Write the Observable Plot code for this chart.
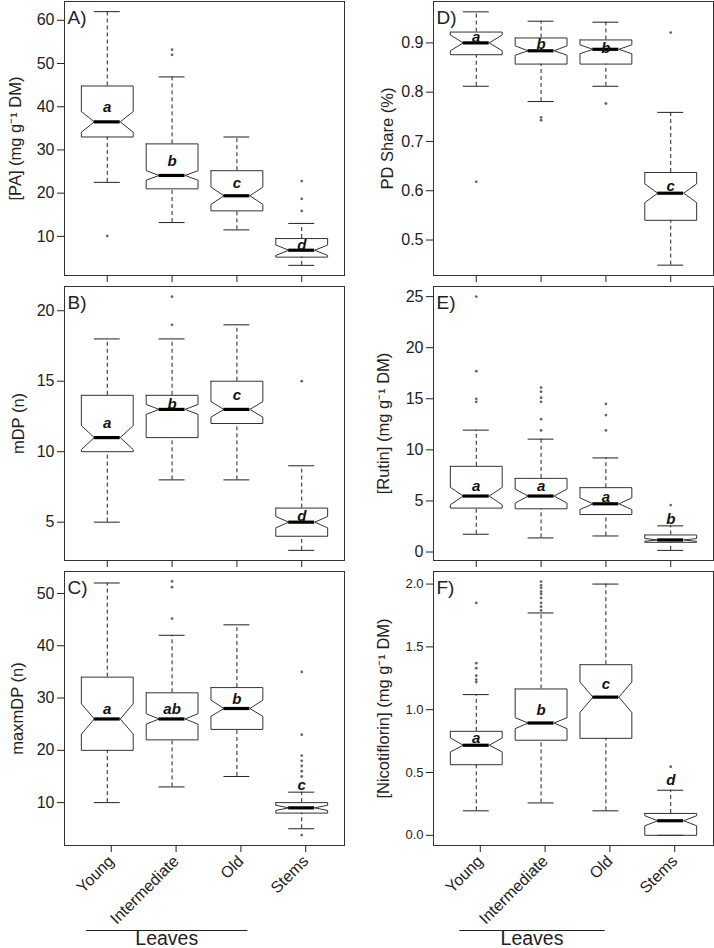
<!DOCTYPE html>
<html><head><meta charset="utf-8">
<script src="https://cdn.jsdelivr.net/npm/d3@7"></script>
<script src="https://cdn.jsdelivr.net/npm/@observablehq/plot@0.6"></script>
<style>
body{margin:0;background:#fff;}
#chart{position:relative;width:714px;height:948px;overflow:hidden;background:#fff;font-family:"Liberation Sans",Arial,sans-serif;}
#chart svg{position:absolute;overflow:visible;}
</style></head><body><div id="chart"></div>
<script>
// Categories
const groups = ["Young", "Intermediate", "Old", "Stems"];
const groupLabel = "Leaves";

// Box statistics per group: [whiskerLow, Q1, median, Q3, whiskerHigh, notchLow, notchHigh]
const paStats = [
  [22.5, 33.0, 36.5, 44.8, 62.0, 34.1, 38.9],
  [13.2, 21.0, 24.1, 31.4, 46.9, 23.0, 25.2],
  [11.5, 15.9, 19.4, 25.2, 33.0, 17.4, 21.4],
  [3.3, 5.2, 6.8, 9.5, 13.0, 5.6, 8.0]
];
const paOutliers = [[1, 10.1], [2, 53.2], [2, 52.0], [4, 22.8], [4, 18.7], [4, 15.9]];
const paLetters = [["a", 40.0], ["b", 27.5], ["c", 22.4], ["d", 8.0]];

const mdpStats = [
  [5, 10, 11, 14, 18, 10.15, 11.85],
  [8, 11, 13, 14, 18, 12.65, 13.35],
  [8, 12, 13, 15, 19, 12.45, 13.55],
  [3, 4, 5, 6, 9, 4.6, 5.4]
];
const mdpOutliers = [[2, 21], [2, 19], [4, 15]];
const mdpLetters = [["a", 12.0], ["b", 13.4], ["c", 14.0], ["d", 5.4]];

const maxStats = [
  [10, 20, 26, 34, 52, 23.1, 28.9],
  [13, 22, 26, 31, 42, 25.0, 27.0],
  [15, 24, 28, 32, 44, 26.5, 29.6],
  [5, 8, 9, 10, 12, 8.5, 9.5]
];
const maxOutliers = [[2, 52.3], [2, 51.2], [2, 45.2], [4, 35], [4, 23], [4, 19], [4, 18], [4, 17], [4, 16], [4, 15], [4, 3.8]];
const maxLetters = [["a", 27.8], ["ab", 27.8], ["b", 29.8], ["c", 13.4]];

const pdStats = [
  [0.812, 0.876, 0.900, 0.922, 0.963, 0.884, 0.916],
  [0.781, 0.857, 0.884, 0.910, 0.944, 0.875, 0.894],
  [0.812, 0.857, 0.887, 0.906, 0.942, 0.878, 0.896],
  [0.449, 0.540, 0.595, 0.637, 0.759, 0.576, 0.614]
];
const pdOutliers = [[1, 0.618], [2, 0.749], [2, 0.743], [3, 0.777], [4, 0.921]];
const pdLetters = [["a", 0.911], ["b", 0.897], ["b", 0.890], ["c", 0.610]];

const rutinStats = [
  [1.74, 4.30, 5.48, 8.39, 11.93, 4.62, 6.33],
  [1.38, 4.23, 5.48, 7.21, 11.05, 4.79, 6.16],
  [1.57, 3.67, 4.72, 6.30, 9.21, 4.16, 5.30],
  [0.16, 0.95, 1.18, 1.67, 2.56, 1.05, 1.32]
];
const rutinOutliers = [[1, 25.0], [1, 17.7], [1, 15.0], [1, 14.7], [2, 16.1], [2, 15.7], [2, 15.1], [2, 14.7], [2, 13.0], [2, 11.9], [3, 14.5], [3, 13.4], [3, 11.9], [4, 4.6]];
const rutinLetters = [["a", 6.4], ["a", 6.4], ["a", 5.4], ["b", 3.2]];

const nicoStats = [
  [0.195, 0.562, 0.717, 0.828, 1.12, 0.664, 0.775],
  [0.258, 0.757, 0.894, 1.165, 1.77, 0.849, 0.936],
  [0.195, 0.772, 1.10, 1.358, 2.0, 0.978, 1.22],
  [0.0, 0.0, 0.116, 0.174, 0.359, 0.076, 0.156]
];
const nicoOutliers = [[1, 1.85], [1, 1.37], [1, 1.33], [1, 1.27], [1, 1.24], [1, 1.22], [2, 2.02], [2, 1.99], [2, 1.97], [2, 1.94], [2, 1.92], [2, 1.89], [2, 1.85], [2, 1.82], [2, 1.79], [4, 0.546]];
const nicoLetters = [["a", 0.775], ["b", 0.994], ["c", 1.20], ["d", 0.435]];

// Axis settings
const paTicks = [10, 20, 30, 40, 50, 60];
const mdpTicks = [5, 10, 15, 20];
const maxTicks = [10, 20, 30, 40, 50];
const pdTicks = [0.5, 0.6, 0.7, 0.8, 0.9];
const rutinTicks = [0, 5, 10, 15, 20, 25];
const nicoTicks = [0, 0.5, 1, 1.5, 2];

const FONT = "'Liberation Sans', Arial, sans-serif";
const chart = document.getElementById("chart");

function panel(cfg) {
  const {stats, outliers, letters, domain, ticks, fmt, label, tag, tickFont, labelDx, col, row} = cfg;
  const boxes = stats.map((s, i) => ({x: i + 1, lo: s[0], q1: s[1], med: s[2], q3: s[3], hi: s[4], nlo: s[5], nhi: s[6]}));
  const W = 0.4;
  const outline = boxes.flatMap(b => [[-1, b.q3], [-1, b.nhi], [-0.5, b.med], [-1, b.nlo], [-1, b.q1], [1, b.q1], [1, b.nlo], [0.5, b.med], [1, b.nhi], [1, b.q3], [-1, b.q3]]
    .map(([k, y]) => ({x: b.x + k * W, y, g: b.x})));
  const heights = [285, 286, 378];
  const tops = [0, 285, 570];
  const left = col === 0;
  const bottom = row === 2;
  const ink = "#222";
  const plot = Plot.plot({
    width: 357,
    height: heights[row],
    marginTop: 1,
    marginBottom: heights[row] - 1 - 274,
    marginLeft: left ? 64 : 76,
    marginRight: left ? 13 : 1,
    x: {domain: [0.34, 4.66]},
    y: {domain},
    style: {fontFamily: FONT, background: "transparent", color: ink, overflow: "visible"},
    marks: [
      Plot.ruleX(boxes, {x: "x", y1: "q3", y2: "hi", stroke: ink, strokeDasharray: "4 3"}),
      Plot.ruleX(boxes, {x: "x", y1: "lo", y2: "q1", stroke: ink, strokeDasharray: "4 3"}),
      Plot.ruleY(boxes, {y: "hi", x1: d => d.x - W / 2, x2: d => d.x + W / 2, stroke: ink}),
      Plot.ruleY(boxes, {y: "lo", x1: d => d.x - W / 2, x2: d => d.x + W / 2, stroke: ink}),
      Plot.line(outline, {x: "x", y: "y", z: "g", stroke: "#333", strokeWidth: 1}),
      Plot.ruleY(boxes, {y: "med", x1: d => d.x - W / 2, x2: d => d.x + W / 2, stroke: "#000", strokeWidth: 3.2}),
      Plot.dot(outliers, {x: d => d[0], y: d => d[1], r: 1.4, fill: "#666", stroke: null}),
      Plot.text(letters, {x: (d, i) => i + 1, y: d => d[1], text: d => d[0], fontSize: 15, fontWeight: "bold", fontStyle: "italic", fill: "#111"}),
      Plot.text([tag], {frameAnchor: "top-left", textAnchor: "start", lineAnchor: "top", dx: 3, dy: 9, fontSize: 19, fill: ink}),
      Plot.text([label], {frameAnchor: "left", dx: labelDx, rotate: -90, lineAnchor: "bottom", textAnchor: "middle", fontSize: 16.5, fill: ink}),
      Plot.axisY({ticks, tickFormat: fmt, tickSize: 7, tickPadding: 3, fontSize: tickFont, label: null, stroke: ink}),
      bottom
        ? Plot.axisX({ticks: [1, 2, 3, 4], tickFormat: i => groups[i - 1], tickSize: 7, tickPadding: 6, tickRotate: -45, fontSize: 16, label: null, dx: 4})
        : Plot.axisX({ticks: [1, 2, 3, 4], tickFormat: () => "", tickSize: 7, label: null}),
      Plot.frame({stroke: "#333"})
    ]
  });
  plot.style.left = (left ? 0 : 357) + "px";
  plot.style.top = tops[row] + "px";
  chart.appendChild(plot);
  if (bottom) {
    const sx = plot.scale("x");
    const span = left ? [0.68, 3.17] : [0.745, 2.99];
    const svg = d3.select(plot);
    svg.append("line")
      .attr("x1", sx.apply(span[0])).attr("x2", sx.apply(span[1]))
      .attr("y1", 360.5).attr("y2", 360.5)
      .attr("stroke", "#222").attr("stroke-width", 1);
    svg.append("text")
      .attr("x", sx.apply((span[0] + span[1]) / 2)).attr("y", 375)
      .attr("text-anchor", "middle")
      .attr("font-family", FONT).attr("font-size", 19.5).attr("fill", "#222")
      .text(groupLabel);
  }
}

panel({stats: paStats, outliers: paOutliers, letters: paLetters, domain: [0.95, 64.35], ticks: paTicks, fmt: d3.format("d"), label: "[PA] (mg g⁻¹ DM)", tag: "A)", tickFont: 16, labelDx: -44, col: 0, row: 0});
panel({stats: mdpStats, outliers: mdpOutliers, letters: mdpLetters, domain: [2.28, 21.72], ticks: mdpTicks, fmt: d3.format("d"), label: "mDP (n)", tag: "B)", tickFont: 16, labelDx: -41, col: 0, row: 1});
panel({stats: maxStats, outliers: maxOutliers, letters: maxLetters, domain: [1.8, 54.2], ticks: maxTicks, fmt: d3.format("d"), label: "maxmDP (n)", tag: "C)", tickFont: 16, labelDx: -42, col: 0, row: 2});
panel({stats: pdStats, outliers: pdOutliers, letters: pdLetters, domain: [0.428, 0.984], ticks: pdTicks, fmt: d3.format(".1f"), label: "PD Share (%)", tag: "D)", tickFont: 16, labelDx: -41, col: 1, row: 0});
panel({stats: rutinStats, outliers: rutinOutliers, letters: rutinLetters, domain: [-0.83, 25.99], ticks: rutinTicks, fmt: d3.format("d"), label: "[Rutin] (mg g⁻¹ DM)", tag: "E)", tickFont: 16, labelDx: -45, col: 1, row: 1});
panel({stats: nicoStats, outliers: nicoOutliers, letters: nicoLetters, domain: [-0.081, 2.10], ticks: nicoTicks, fmt: d3.format(".1f"), label: "[Nicotiflorin] (mg g⁻¹ DM)", tag: "F)", tickFont: 13, labelDx: -45, col: 1, row: 2});
</script>
</body></html>
